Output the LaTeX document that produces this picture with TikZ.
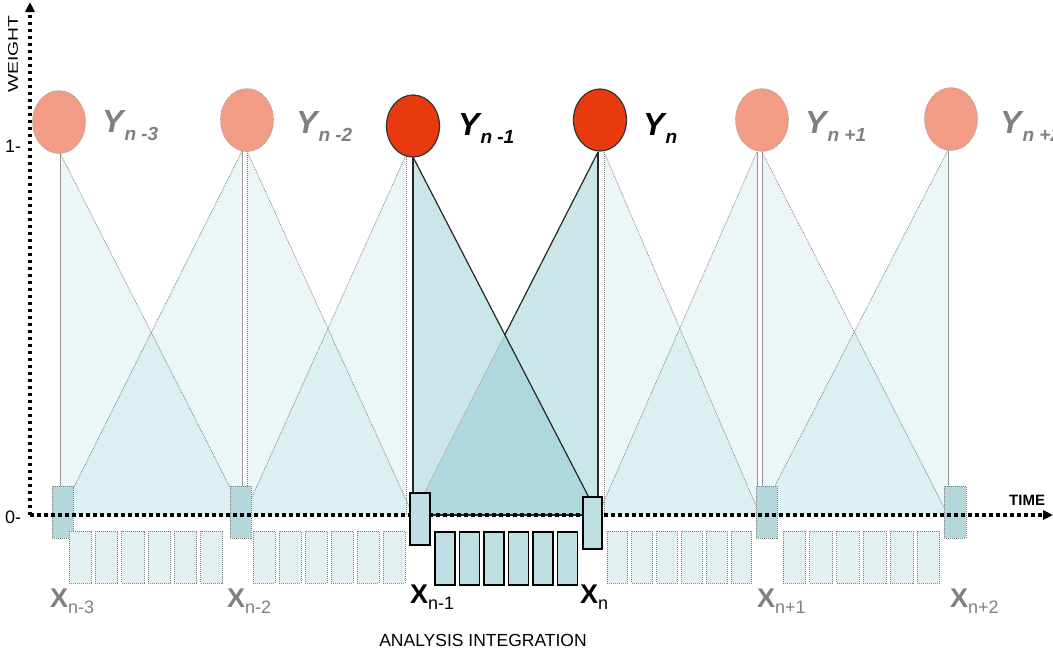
\documentclass[tikz,border=0pt]{standalone}
\usepackage{fontspec}
\setmainfont{Liberation Sans}
\usetikzlibrary{arrows.meta,shapes.geometric}
\definecolor{paleT}{RGB}{150,205,212}
\definecolor{hiT}{RGB}{132,196,203}
\definecolor{paleC}{RGB}{242,155,133}
\definecolor{hiC}{RGB}{232,58,14}
\definecolor{boxP}{RGB}{180,215,220}
\definecolor{rectP}{RGB}{226,240,242}
\definecolor{boxH}{RGB}{190,223,227}
\definecolor{labG}{RGB}{128,128,128}
\definecolor{lineG}{RGB}{150,150,150}
\tikzset{
  paletri/.style={fill=paleT, fill opacity=0.18},
  hitri/.style={fill=hiT, fill opacity=0.42},
  paleedge/.style={draw=lineG, line width=0.6pt},
  paledot/.style={draw=gray, line width=0.7pt, dash pattern=on 1pt off 1pt},
  hiedge/.style={draw=black!85, line width=1.2pt},
  faintedge/.style={draw=lineG!70, line width=0.7pt},
  palebox/.style={fill=boxP, draw=gray, line width=0.8pt, dash pattern=on 1pt off 1pt},
  hibox/.style={fill=boxH, draw=black, line width=1.4pt},
  palerect/.style={fill=rectP, draw=gray, line width=0.8pt, dash pattern=on 1pt off 1pt},
  hirect/.style={fill=boxH, draw=black, line width=1.4pt},
  palecirc/.style={ellipse, minimum width=53pt, minimum height=63pt, inner sep=0pt, fill=paleC, draw=gray!80, dash pattern=on 1pt off 1pt, line width=0.6pt},
  hicirc/.style={ellipse, minimum width=53pt, minimum height=62pt, inner sep=0pt, fill=hiC, draw=black!80, line width=1.2pt},
  axisline/.style={line width=3.5pt, dash pattern=on 3.5pt off 3.5pt, -{Triangle[length=10pt,width=9pt]}},
  ylab/.style={anchor=base west, inner sep=0pt, font=\bfseries\itshape},
  xlab/.style={anchor=base west, inner sep=0pt},
}
\newcommand{\Ylab}[1]{{\fontsize{32}{32}\selectfont Y}\hspace{1pt}\raisebox{-8pt}{\fontsize{19}{19}\selectfont #1}}
\newcommand{\Xlab}[1]{{\fontsize{27}{27}\selectfont\bfseries X}\raisebox{-6pt}{\fontsize{18}{18}\selectfont #1}}
\begin{document}
\begin{tikzpicture}[x=1pt,y=-1pt]
\useasboundingbox (0,0) rectangle (1053,654);
% base points on the time axis
\coordinate (Ba) at (60,515);
\coordinate (Bb) at (244,515);
\coordinate (Bc) at (413,515);
\coordinate (Bd) at (598,515);
\coordinate (Be) at (760,515);
\coordinate (Bf) at (948,515);
% apex points
\coordinate (Ra) at (60,153);
\coordinate (Lb) at (242,151);
\coordinate (Rb) at (247,151);
\coordinate (Lc) at (406,155);
\coordinate (Rc) at (413,157);
\coordinate (Ld) at (598,152);
\coordinate (Rd) at (604,152);
\coordinate (Le) at (757,152);
\coordinate (Re) at (762,152);
\coordinate (Lf) at (948,150);
% pale triangle fills
\fill[paletri] (Ra) -- (Ba) -- (Bb) -- cycle;
\fill[paletri] (Lb) -- (242,515) -- (Ba) -- cycle;
\fill[paletri] (Rb) -- (247,515) -- (Bc) -- cycle;
\fill[paletri] (Lc) -- (406,515) -- (Bb) -- cycle;
\fill[paletri] (Rd) -- (604,515) -- (Be) -- cycle;
\fill[paletri] (Le) -- (757,515) -- (Bd) -- cycle;
\fill[paletri] (Re) -- (762,515) -- (Bf) -- cycle;
\fill[paletri] (Lf) -- (Bf) -- (Be) -- cycle;
% highlighted triangle fills
\fill[hitri] (Ld) -- (Bd) -- (Bc) -- cycle;
\fill[hitri] (Rc) -- (Bc) -- (Bd) -- cycle;
% pale edges
\draw[paleedge] (Ra) -- (Ba);
\draw[paledot] (Ra) -- (Bb);
\draw[paleedge] (Lb) -- (242,515);
\draw[paledot] (Lb) -- (Ba);
\draw[paledot] (Rb) -- (247,515);
\draw[paledot] (Rb) -- (Bc);
\draw[paledot] (Lc) -- (406,515);
\draw[paledot] (Lc) -- (Bb);
\draw[paledot] (Rd) -- (604,515);
\draw[paledot] (Rd) -- (Be);
\draw[paleedge] (Le) -- (757,515);
\draw[paledot] (Le) -- (Bd);
\draw[paleedge] (Re) -- (762,515);
\draw[paledot] (Re) -- (Bf);
\draw[paleedge] (Lf) -- (Bf);
\draw[paledot] (Lf) -- (Be);
% highlighted edges
\coordinate (Xc) at (intersection of Rc--Bd and Ld--Bc);
\draw[faintedge] (Xc) -- (Bc);
\draw[hiedge] (Ld) -- (Xc);
\draw[hiedge] (Ld) -- (Bd);
\draw[hiedge] (Rc) -- (Bc);
\draw[hiedge] (Rc) -- (Bd);
\draw[hiedge] (Bc) -- (Bd);
% boxes at the sample points
\draw[palebox] (52,486) rectangle (73,538);
\draw[palebox] (230,486) rectangle (251,538);
\draw[palebox] (756,486) rectangle (777,538);
\draw[palebox] (944,486) rectangle (966,538);
% small analysis rectangles
\foreach \l/\w in {69/22.3, 253/22, 607/20.8, 783/22.8}{
  \foreach \i in {0,...,5}{
    \draw[palerect] ({\l+\i*(\w+4)},531) rectangle ({\l+\i*(\w+4)+\w},583);
  }
}
% axes
\draw[axisline] (30,515) -- (1053,515);
\draw[axisline] (30,515) -- (30,2);
% highlighted boxes and rectangles
\draw[hibox] (410,493) rectangle (430,545);
\draw[hibox] (583,497) rectangle (602,549);
\foreach \i in {0,...,5}{
  \draw[hirect] ({435+\i*24.5},532) rectangle ({435+\i*24.5+20},585);
}
% circles
\node[palecirc] (Ya) at (59,122) {};
\node[palecirc] (Yb) at (247,120) {};
\node[hicirc] (Yc) at (413,126) {};
\node[hicirc] (Yd) at (600,120) {};
\node[palecirc] (Ye) at (762,120) {};
\node[palecirc] (Yf) at (951,119) {};
% Y labels
\node[ylab, text=labG] (ta) at (102,132) {\Ylab{n -3}};
\node[ylab, text=labG] (tb) at (296,133) {\Ylab{n -2}};
\node[ylab, text=black] (tc) at (458,135) {\Ylab{n -1}};
\node[ylab, text=black] (td) at (643,135) {\Ylab{n}};
\node[ylab, text=labG] (te) at (805,133) {\Ylab{n +1}};
\node[ylab, text=labG] (tf) at (1000,133) {\Ylab{n +2}};
% X labels
\node[xlab, text=labG] (xa) at (50,607) {\Xlab{n-3}};
\node[xlab, text=labG] (xb) at (227,607) {\Xlab{n-2}};
\node[xlab, text=black] (xc) at (410,603) {\Xlab{n-1}};
\node[xlab, text=black] (xd) at (580,603) {\Xlab{n}};
\node[xlab, text=labG] (xe) at (757,607) {\Xlab{n+1}};
\node[xlab, text=labG] (xf) at (950,607) {\Xlab{n+2}};
% axis labels
\node[rotate=90, inner sep=0pt] (wt) at (13,54) {\scalebox{1.38}[1]{\fontsize{14}{14}\selectfont WEIGHT}};
\node[anchor=base west, inner sep=0pt, font=\fontsize{18}{18}\selectfont] (one) at (5,152) {1-};
\node[anchor=base west, inner sep=0pt, font=\fontsize{18}{18}\selectfont] (zero) at (5,523) {0-};
\node[anchor=base west, inner sep=0pt, font=\fontsize{15}{15}\selectfont\bfseries] (time) at (1009,505) {TIME};
\node[anchor=base, inner sep=0pt, font=\fontsize{17.5}{17.5}\selectfont] (ai) at (483,646) {ANALYSIS INTEGRATION};
\end{tikzpicture}
\end{document}
